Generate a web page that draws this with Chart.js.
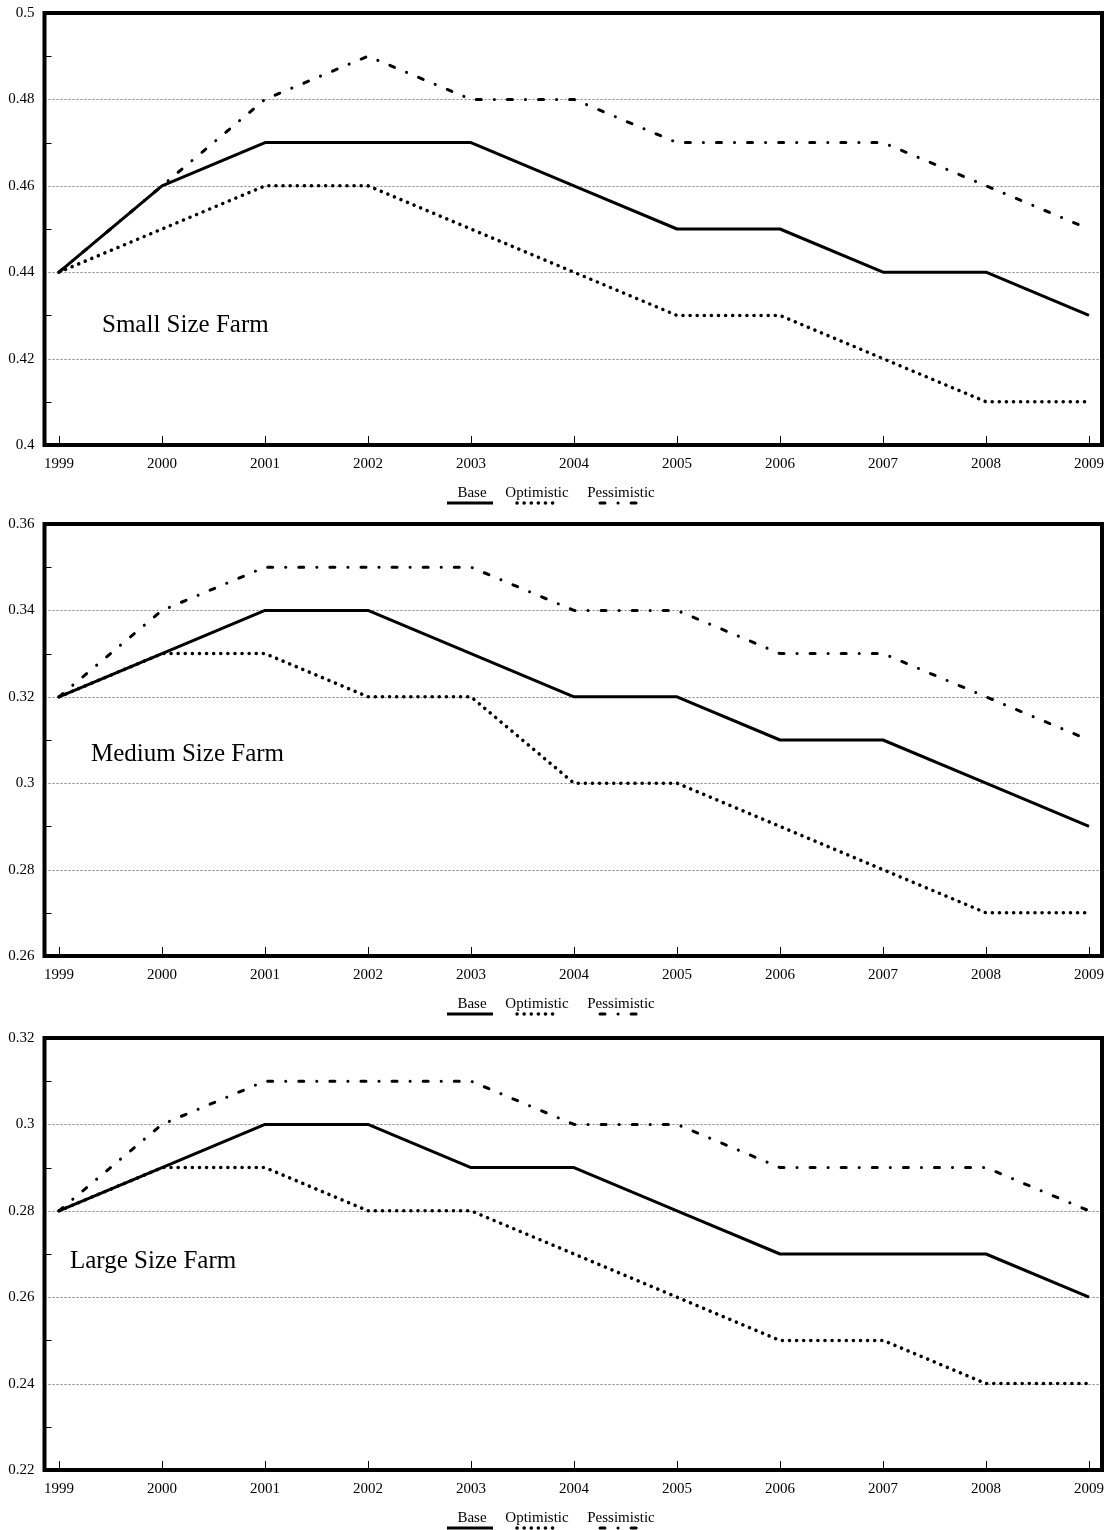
<!DOCTYPE html>
<html>
<head>
<meta charset="utf-8">
<script src="https://cdn.jsdelivr.net/npm/chart.js@4.4.1/dist/chart.umd.min.js"></script>
<style>
  html, body { margin: 0; padding: 0; background: #fff; width: 1109px; height: 1530px; overflow: hidden; }
  .wrap { position: absolute; left: 0; width: 1109px; }
  canvas { display: block; }
</style>
</head>
<body>
<div class="wrap" style="top:0px"><canvas id="c1" width="1109" height="512"></canvas></div>
<div class="wrap" style="top:511px"><canvas id="c2" width="1109" height="512"></canvas></div>
<div class="wrap" style="top:1025px"><canvas id="c3" width="1109" height="505"></canvas></div>
<script>
// ---- data ----
const years = [1999, 2000, 2001, 2002, 2003, 2004, 2005, 2006, 2007, 2008, 2009];
const seriesNames = ['Base', 'Optimistic', 'Pessimistic'];
const panelTitles = ['Small Size Farm', 'Medium Size Farm', 'Large Size Farm'];

const smallBase        = [0.44, 0.46, 0.47, 0.47, 0.47, 0.46, 0.45, 0.45, 0.44, 0.44, 0.43];
const smallOptimistic  = [0.44, 0.45, 0.46, 0.46, 0.45, 0.44, 0.43, 0.43, 0.42, 0.41, 0.41];
const smallPessimistic = [0.44, 0.46, 0.48, 0.49, 0.48, 0.48, 0.47, 0.47, 0.47, 0.46, 0.45];

const mediumBase        = [0.32, 0.33, 0.34, 0.34, 0.33, 0.32, 0.32, 0.31, 0.31, 0.30, 0.29];
const mediumOptimistic  = [0.32, 0.33, 0.33, 0.32, 0.32, 0.30, 0.30, 0.29, 0.28, 0.27, 0.27];
const mediumPessimistic = [0.32, 0.34, 0.35, 0.35, 0.35, 0.34, 0.34, 0.33, 0.33, 0.32, 0.31];

const largeBase        = [0.28, 0.29, 0.30, 0.30, 0.29, 0.29, 0.28, 0.27, 0.27, 0.27, 0.26];
const largeOptimistic  = [0.28, 0.29, 0.29, 0.28, 0.28, 0.27, 0.26, 0.25, 0.25, 0.24, 0.24];
const largePessimistic = [0.28, 0.30, 0.31, 0.31, 0.31, 0.30, 0.30, 0.29, 0.29, 0.29, 0.28];

const smallRange  = [0.40, 0.50];
const mediumRange = [0.26, 0.36];
const largeRange  = [0.22, 0.32];
const yStep = 0.01;

// ---- styling ----
const SERIF = '"Liberation Serif", "Times New Roman", serif';
const lineStyles = [
  { borderWidth: 3, borderDash: [], borderCapStyle: 'butt' },
  { borderWidth: 3.5, borderDash: [0.1, 7], borderCapStyle: 'round' },
  { borderWidth: 3, borderDash: [5, 13, 0.1, 13], borderCapStyle: 'round' }
];
const titlePos = [ {x: 102, y: 332}, {x: 91, y: 250}, {x: 70, y: 243} ];

function isMajor(v) { return Math.round(v * 100) % 2 === 0; }

const decorPlugin = {
  id: 'decor',
  beforeDatasetsDraw(chart) {
    const { ctx, chartArea: a, scales: { x, y } } = chart;
    ctx.save();
    ctx.strokeStyle = '#808080';
    ctx.lineWidth = 1;
    ctx.setLineDash([2, 2]);
    y.ticks.forEach(t => {
      if (isMajor(t.value) && t.value > y.min + 1e-9 && t.value < y.max - 1e-9) {
        const py = Math.round(y.getPixelForValue(t.value)) + 0.5;
        ctx.beginPath(); ctx.moveTo(a.left, py); ctx.lineTo(a.right, py); ctx.stroke();
      }
    });
    ctx.setLineDash([]);
    ctx.strokeStyle = '#000';
    y.ticks.forEach(t => {
      if (!isMajor(t.value)) {
        const py = Math.round(y.getPixelForValue(t.value)) + 0.5;
        ctx.beginPath(); ctx.moveTo(a.left, py); ctx.lineTo(a.left + 7, py); ctx.stroke();
      }
    });
    x.ticks.forEach(t => {
      const px = Math.round(x.getPixelForValue(t.value)) + 0.5;
      ctx.beginPath(); ctx.moveTo(px, a.bottom); ctx.lineTo(px, a.bottom - 9); ctx.stroke();
    });
    ctx.restore();
  },
  afterDatasetsDraw(chart, args, opts) {
    const { ctx, chartArea: a } = chart;
    ctx.save();
    ctx.strokeStyle = '#000';
    ctx.lineWidth = 4;
    ctx.strokeRect(a.left, a.top, a.right - a.left, a.bottom - a.top);
    ctx.fillStyle = '#000';
    ctx.font = '25px ' + SERIF;
    ctx.textAlign = 'left';
    ctx.textBaseline = 'alphabetic';
    ctx.fillText(opts.title, opts.tx, opts.ty);
    const ly = a.bottom + 48;
    const lineY = a.bottom + 58;
    const items = [
      { text: seriesNames[0], cx: 472, x0: 447, x1: 493 },
      { text: seriesNames[1], cx: 537, x0: 517, x1: 558 },
      { text: seriesNames[2], cx: 621, x0: 600, x1: 639 }
    ];
    ctx.font = '15px ' + SERIF;
    ctx.textAlign = 'center';
    ctx.textBaseline = 'middle';
    items.forEach((it, i) => {
      ctx.fillText(it.text, it.cx, ly);
      const st = lineStyles[i];
      ctx.lineWidth = st.borderWidth;
      ctx.lineCap = st.borderCapStyle;
      ctx.setLineDash(st.borderDash);
      ctx.beginPath(); ctx.moveTo(it.x0, lineY); ctx.lineTo(it.x1, lineY); ctx.stroke();
    });
    ctx.restore();
  }
};

function makeChart(id, idx, range, base, opt, pess) {
  const canvas = document.getElementById(id);
  const vals = [base, opt, pess];
  const datasets = vals.map((arr, i) => Object.assign({
    label: seriesNames[i],
    data: years.map((yr, k) => ({ x: yr, y: arr[k] })),
    borderColor: '#000',
    backgroundColor: '#000',
    pointRadius: 0,
    tension: 0,
    fill: false,
    borderJoinStyle: 'round'
  }, lineStyles[i]));
  const xPadL = (59 - 44.5) / 103;
  const xPadR = (1102 - 1089) / 103;
  return new Chart(canvas, {
    type: 'line',
    data: { datasets },
    plugins: [decorPlugin],
    options: {
      responsive: false,
      animation: false,
      layout: { padding: { left: 0, right: 7, top: 13, bottom: 0 } },
      plugins: {
        legend: { display: false },
        tooltip: { enabled: false },
        decor: { title: panelTitles[idx], tx: titlePos[idx].x, ty: titlePos[idx].y }
      },
      scales: {
        x: {
          type: 'linear',
          min: years[0] - xPadL,
          max: years[years.length - 1] + xPadR,
          afterBuildTicks: (s) => { s.ticks = years.map(v => ({ value: v })); },
          afterFit: (s) => { s.height = canvas.height - 445; s.paddingLeft = 0; s.paddingRight = 0; },
          grid: { display: false, drawTicks: false },
          border: { display: false },
          ticks: {
            padding: 10,
            color: '#000',
            font: { family: SERIF, size: 15 },
            maxRotation: 0,
            autoSkip: false,
            callback: (v) => String(v)
          }
        },
        y: {
          type: 'linear',
          min: range[0],
          max: range[1],
          afterFit: (s) => { s.width = 44.5; s.paddingTop = 0; s.paddingBottom = 0; },
          grid: { display: false, drawTicks: false },
          border: { display: false },
          ticks: {
            stepSize: yStep,
            padding: 10,
            color: '#000',
            font: { family: SERIF, size: 15 },
            autoSkip: false,
            callback: (v) => isMajor(v) ? String(parseFloat(Number(v).toFixed(2))) : ''
          }
        }
      }
    }
  });
}

makeChart('c1', 0, smallRange, smallBase, smallOptimistic, smallPessimistic);
makeChart('c2', 1, mediumRange, mediumBase, mediumOptimistic, mediumPessimistic);
makeChart('c3', 2, largeRange, largeBase, largeOptimistic, largePessimistic);
</script>
</body>
</html>
